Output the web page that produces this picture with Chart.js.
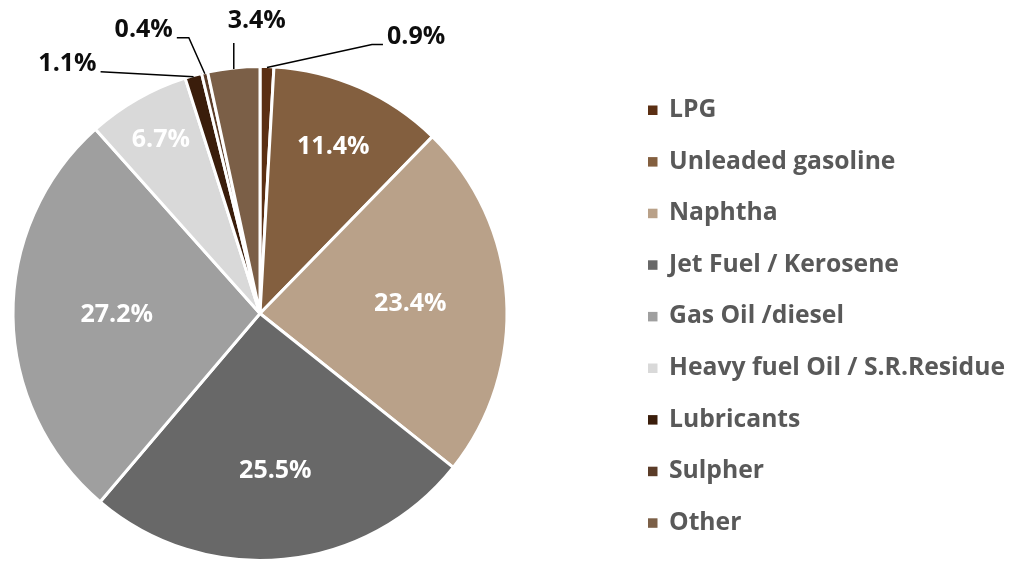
<!DOCTYPE html>
<html>
<head>
<meta charset="utf-8">
<script src="https://cdn.jsdelivr.net/npm/chart.js@4.4.0/dist/chart.umd.min.js"></script>
<style>
html,body{margin:0;padding:0;background:#fff;}
#wrap{width:1014px;height:563px;position:relative;}
</style>
</head>
<body>
<div id="wrap"><canvas id="c" width="1014" height="563"></canvas></div>
<script>
const categories = ["LPG","Unleaded gasoline","Naphtha","Jet Fuel / Kerosene","Gas Oil /diesel","Heavy fuel Oil / S.R.Residue","Lubricants","Sulpher","Other"];
const shares = [0.9, 11.4, 23.4, 25.5, 27.2, 6.7, 1.1, 0.4, 3.4];
const colors = ["#5b2f13","#835f3f","#b9a189","#686868","#9f9f9f","#d9d9d9","#3a1d0b","#5b3c28","#7b5f47"];

const FONT = "'Open Sans', sans-serif";

// label styling per slice (inside: radial fraction; outside: leader line geometry)
const labelStyle = [
  {out:true, elbow:[105,-23], tail:11, align:'left', textDy:-8},
  {r:0.737},
  {r:0.61},
  {r:0.64},
  {r:0.58},
  {r:0.81},
  {out:true, elbow:[-93,-5], tail:0, align:'right', textDy:-8},
  {out:true, elbow:[-16,-36], tail:-12, align:'right', textDy:-8},
  {out:true, elbow:[0,-26], tail:0, align:'center', textDx:23, textDy:-22}
];

const labelPlugin = {
  id:'pieLabels',
  afterDatasetsDraw(chart){
    const ctx = chart.ctx;
    const meta = chart.getDatasetMeta(0);
    ctx.save();
    ctx.font = "bold 25px " + FONT;
    ctx.textBaseline = 'middle';
    meta.data.forEach((arc,i)=>{
      const p = arc.getProps(['x','y','startAngle','endAngle','outerRadius'], true);
      const mid = (p.startAngle + p.endAngle)/2;
      const txt = shares[i].toFixed(1) + '%';
      const st = labelStyle[i];
      if(!st.out){
        const rr = p.outerRadius*st.r;
        ctx.fillStyle = '#ffffff';
        ctx.textAlign = 'center';
        ctx.fillText(txt, p.x + Math.cos(mid)*rr, p.y + Math.sin(mid)*rr);
      } else {
        const ex = p.x + Math.cos(mid)*(p.outerRadius-1);
        const ey = p.y + Math.sin(mid)*(p.outerRadius-1);
        const bx = ex + st.elbow[0], by = ey + st.elbow[1];
        const tx = bx + st.tail;
        ctx.strokeStyle = '#000';
        ctx.lineWidth = 1.5;
        ctx.beginPath();
        ctx.moveTo(ex,ey); ctx.lineTo(bx,by); ctx.lineTo(tx,by);
        ctx.stroke();
        ctx.fillStyle = '#0d0d0d';
        ctx.textAlign = st.align;
        let lx = tx + (st.align==='left'?4:(st.align==='right'?-4:0)) + (st.textDx||0);
        ctx.fillText(txt, lx, by + (st.textDy||0));
      }
    });
    ctx.restore();
  }
};

const legendPlugin = {
  id:'customLegend',
  afterDraw(chart){
    const ctx = chart.ctx;
    ctx.save();
    ctx.font = "bold 24.7px " + FONT;
    ctx.textBaseline = 'middle';
    ctx.textAlign = 'left';
    categories.forEach((name,i)=>{
      const cy = 110 + i*51.6;
      ctx.fillStyle = colors[i];
      ctx.fillRect(648, cy-4.5, 9.5, 9.5);
      ctx.fillStyle = '#595959';
      ctx.fillText(name, 669, cy);
    });
    ctx.restore();
  }
};

new Chart(document.getElementById('c'), {
  type:'pie',
  data:{
    labels:categories,
    datasets:[{data:shares, backgroundColor:colors, borderColor:'#ffffff', borderWidth:3}]
  },
  options:{
    responsive:false,
    animation:false,
    layout:{padding:{left:11.5, top:65, right:505.5, bottom:1}},
    plugins:{legend:{display:false}, tooltip:{enabled:false}}
  },
  plugins:[labelPlugin, legendPlugin]
});
</script>
</body>
</html>
